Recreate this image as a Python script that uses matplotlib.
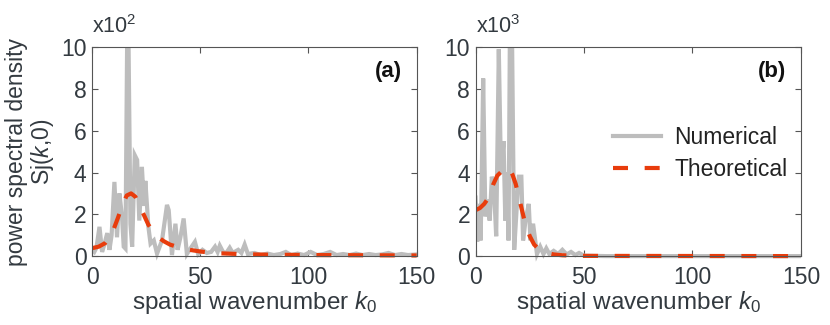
import matplotlib
matplotlib.use("Agg")
import matplotlib.pyplot as plt
from matplotlib.transforms import Bbox, TransformedBbox

plt.rcParams["font.family"] = ["Liberation Sans", "DejaVu Sans"]
plt.rcParams["mathtext.fontset"] = "custom"
plt.rcParams["mathtext.rm"] = "Liberation Sans"
plt.rcParams["mathtext.it"] = "Liberation Sans:italic"

TEXT = "#333a40"
GRAY = "#bdbdbd"
RED = "#e83c0c"

# panel (a): numerical spectrum, x10^2
k_num_a = [0, 1, 2, 3.4, 4.6, 5.5, 7, 8, 9, 10.3, 11.5, 12.6, 13.8, 14.6, 15.4,
           16.2, 16.8, 17.7, 18.5, 19.7, 20.8, 21.8, 23, 24, 24.6, 26, 27, 28.5,
           30, 32.3, 34.6, 35.4, 36.9, 38.5, 39.5, 40.8, 42.3, 43.8, 46, 47.5,
           49, 51, 53, 55, 56.8, 58, 59, 60.5, 62, 63.6, 65, 67.5, 69, 70.5, 72,
           75, 78, 81, 84, 87, 89.5, 92, 95, 98, 101, 104, 107, 110, 113, 116,
           119, 122, 125, 128, 131, 134, 137, 140, 143, 146, 150]
s_num_a = [0.3, 0.2, 0.4, 1.4, 0.2, 0.5, 1.1, 0.3, 1.0, 3.55, 0.9, 3.0, 1.9, 0.45, 0.36,
           10.5, 10.5, 1.55, 0.45, 4.83, 4.6, 1.7, 4.27, 2.4, 3.6, 1.4, 0.6, 0.75,
           0.12, 0.75, 2.45, 2.2, 0.05, 1.55, 0.3, 0.9, 1.8, 0.1, 0.45, 0.68,
           0.1, 0.3, 0.15, 0.2, 0.45, 0.2, 0.5, 0.2, 0.15, 0.4, 0.15, 0.3, 0.15, 0.55, 0.1,
           0.15, 0.05, 0.12, 0.05, 0.1, 0.2, 0.05, 0.12, 0.05, 0.2, 0.05, 0.1, 0.2, 0.05, 0.1,
           0.05, 0.12, 0.05, 0.1, 0.05, 0.08, 0.15, 0.05, 0.1, 0.05, 0.08]

# panel (a): theoretical
k_th_a = [0, 3, 6, 8, 10, 12, 14, 16, 18, 20, 22, 24, 26, 28, 30, 33, 36, 40,
          45, 50, 55, 60, 70, 80, 100, 125, 150]
s_th_a = [0.38, 0.45, 0.62, 0.9, 1.3, 1.85, 2.45, 2.9, 3.0, 2.84, 2.4, 1.95, 1.5,
          1.2, 0.95, 0.72, 0.55, 0.42, 0.3, 0.22, 0.16, 0.13, 0.09, 0.07, 0.05,
          0.04, 0.03]

# panel (b): numerical spectrum, x10^3
k_num_b = [0, 0.8, 1.6, 2.3, 2.7, 3.5, 4.5, 5.3, 6.5, 7.5, 8.6, 9.5, 10.7, 11.7,
           12.9, 13.7, 14.4, 15.2, 15.8, 16.8, 17.8, 18.8, 19.9, 21.1, 21.9, 23,
           24.5, 25.3, 26.5, 27.5, 28.3, 29.8, 31.3, 32.6, 34, 36, 38, 40, 42, 44,
           46, 47.7, 50, 60, 150]
s_num_b = [2.8, 0.7, 2.5, 0.75, 2.85, 8.5, 1.9, 2.7, 1.7, 3.8, 3.0, 0.95, 9.9, 3.96,
           5.5, 1.7, 4.0, 0.75, 10.5, 10.5, 0.3, 2.05, 3.8, 3.8, 0.75, 1.7,
           2.5, 0.75, 1.55, 0.75, 0.1, 0.45, 0.1, 0.37, 0.1, 0.25, 0.1, 0.3, 0.08, 0.2,
           0.05, 0.15, 0.02, 0.0, 0.0]

# panel (b): theoretical
k_th_b = [0, 2, 4, 6, 8, 10, 12, 13.5, 15.5, 17, 18.5, 20, 21.5, 23, 25, 27, 29,
          32, 36, 40, 45, 50, 150]
s_th_b = [2.2, 2.3, 2.5, 2.8, 3.4, 3.85, 4.05, 4.0, 4.2, 3.9, 3.45, 2.8, 2.15, 1.5,
          0.95, 0.55, 0.35, 0.17, 0.08, 0.04, 0.02, 0.01, 0.0]

fig = plt.figure(figsize=(8.3, 3.25), dpi=100)
ax_a = fig.add_axes([0.111, 0.212, 0.391, 0.643])
ax_b = fig.add_axes([0.573, 0.212, 0.392, 0.643])


def style(ax, num_k, num_s, th_k, th_s, exp_label, tag):
    l1, = ax.plot(num_k, num_s, color=GRAY, lw=3.0, label="Numerical",
                  solid_joinstyle="miter")
    l2, = ax.plot(th_k, th_s, color=RED, lw=3.0, dashes=(3.6, 4.0),
                  label="Theoretical")
    # clip only at top, let bottom of lines sit over the axis
    clip = TransformedBbox(Bbox([[0, -0.05], [1, 1]]), ax.transAxes)
    for ln in (l1, l2):
        ln.set_clip_box(clip)
    ax.set_xlim(0, 150)
    ax.set_ylim(0, 10)
    ax.set_xticks([0, 50, 100, 150])
    ax.set_yticks([0, 2, 4, 6, 8, 10])
    ax.tick_params(direction="in", top=True, right=True, length=4,
                   width=0.8, color="#555555", labelsize=16.5, labelcolor=TEXT)
    ax.tick_params(axis="x", pad=7)
    ax.tick_params(axis="y", pad=4)
    for sp in ax.spines.values():
        sp.set_color("#555555")
        sp.set_linewidth(0.8)
    ax.set_xlabel("spatial wavenumber $k_{\\mathrm{0}}$", fontsize=17.5,
                  color=TEXT, labelpad=0)
    ax.text(0.0, 1.045, exp_label, transform=ax.transAxes, fontsize=15.5,
            color=TEXT, ha="left", va="bottom")
    ax.text(0.955, 0.885, tag, transform=ax.transAxes, fontsize=16,
            fontweight="bold", color="#111111", ha="right", va="center")


style(ax_a, k_num_a, s_num_a, k_th_a, s_th_a, "x10$^{2}$", "(a)")
style(ax_b, k_num_b, s_num_b, k_th_b, s_th_b, "x10$^{3}$", "(b)")

ax_a.set_ylabel("power spectral density\nSj($k$,0)", fontsize=16.5, color=TEXT,
                labelpad=4, linespacing=1.05)

leg = ax_b.legend(loc="center right", bbox_to_anchor=(1.0, 0.49), frameon=False,
                  fontsize=16.5, handlelength=2.1, handletextpad=0.55,
                  labelspacing=0.4, borderaxespad=0.2)
for t in leg.get_texts():
    t.set_color("#222222")

fig.savefig("out.png", dpi=100)
